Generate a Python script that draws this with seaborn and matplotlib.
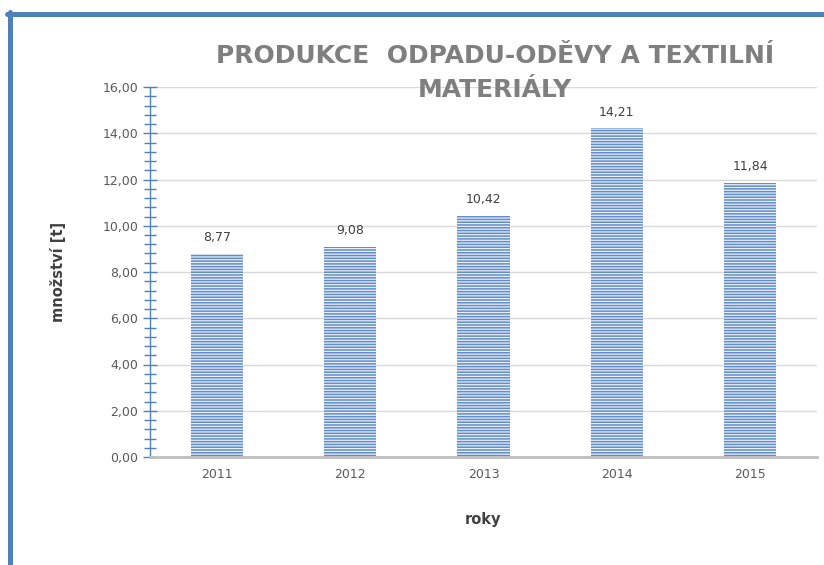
import pandas as pd
import matplotlib
matplotlib.use("Agg")
from matplotlib import pyplot as plt
from matplotlib.lines import Line2D
from matplotlib.ticker import FuncFormatter, MultipleLocator
import seaborn as sns

roky = ["2011", "2012", "2013", "2014", "2015"]
mnozstvi = [8.77, 9.08, 10.42, 14.21, 11.84]
popisky = ["8,77", "9,08", "10,42", "14,21", "11,84"]

sns.set_theme(style="white")
plt.rcParams["font.family"] = ["DejaVu Sans"]
plt.rcParams["hatch.linewidth"] = 0.9

df = pd.DataFrame({"rok": roky, "mnozstvi": mnozstvi})

fig = plt.figure(figsize=(8.24, 5.65), dpi=100)
ax = fig.add_axes([150 / 824, 1 - 457 / 565, 667 / 824, 370 / 565])

sns.barplot(data=df, x="rok", y="mnozstvi", ax=ax, color="#628dc9",
            width=0.39, saturation=1)
for p in ax.patches:
    p.set_hatch("------")
    p.set_edgecolor("#e8eef8")
    p.set_linewidth(0)

for i, (v, s) in enumerate(zip(mnozstvi, popisky)):
    ax.annotate(s, (i, v), xytext=(0, 7), textcoords="offset points",
                ha="center", va="bottom", fontsize=9, color="#404040")

ax.set_xlim(-0.5, 4.5)
ax.set_ylim(0, 16)
ax.yaxis.set_major_locator(MultipleLocator(2))
ax.yaxis.set_minor_locator(MultipleLocator(0.4))
ax.yaxis.set_major_formatter(FuncFormatter(lambda v, _: f"{v:.2f}".replace(".", ",")))
ax.grid(axis="y", color="#d9d9d9", linewidth=1)
ax.set_axisbelow(True)

for s in ["top", "right"]:
    ax.spines[s].set_visible(False)
ax.spines["left"].set_color("#4f81bd")
ax.spines["left"].set_linewidth(1)
ax.spines["bottom"].set_color("#bfbfbf")
ax.spines["bottom"].set_linewidth(2)

ax.tick_params(axis="y", which="major", direction="inout", length=10,
               color="#4f81bd", width=1, labelsize=9, labelcolor="#595959", left=True)
ax.tick_params(axis="y", which="minor", direction="inout", length=8,
               color="#4f81bd", width=1, left=True)
ax.tick_params(axis="x", length=0, labelsize=9, labelcolor="#595959", pad=8)

ax.set_xlabel("roky", fontsize=10.5, fontweight="bold", color="#404040", labelpad=22)
ax.set_ylabel("množství [t]", fontsize=10.5, fontweight="bold", color="#404040", labelpad=26)

fig.text(495 / 824, 1 - 73 / 565, "PRODUKCE  ODPADU-ODĚVY A TEXTILNÍ\nMATERIÁLY",
         ha="center", va="center", fontsize=18, fontweight="bold",
         color="#7f7f7f", linespacing=1.5)

# okraj obrázku
fig.add_artist(Line2D([7 / 824, 1], [1 - 14 / 565, 1 - 14 / 565],
                      color="#4f81bd", linewidth=3.6, transform=fig.transFigure))
fig.add_artist(Line2D([10 / 824, 10 / 824], [0, 1 - 12 / 565],
                      color="#4f81bd", linewidth=3.6, transform=fig.transFigure))

fig.savefig("out.png", dpi=100)
